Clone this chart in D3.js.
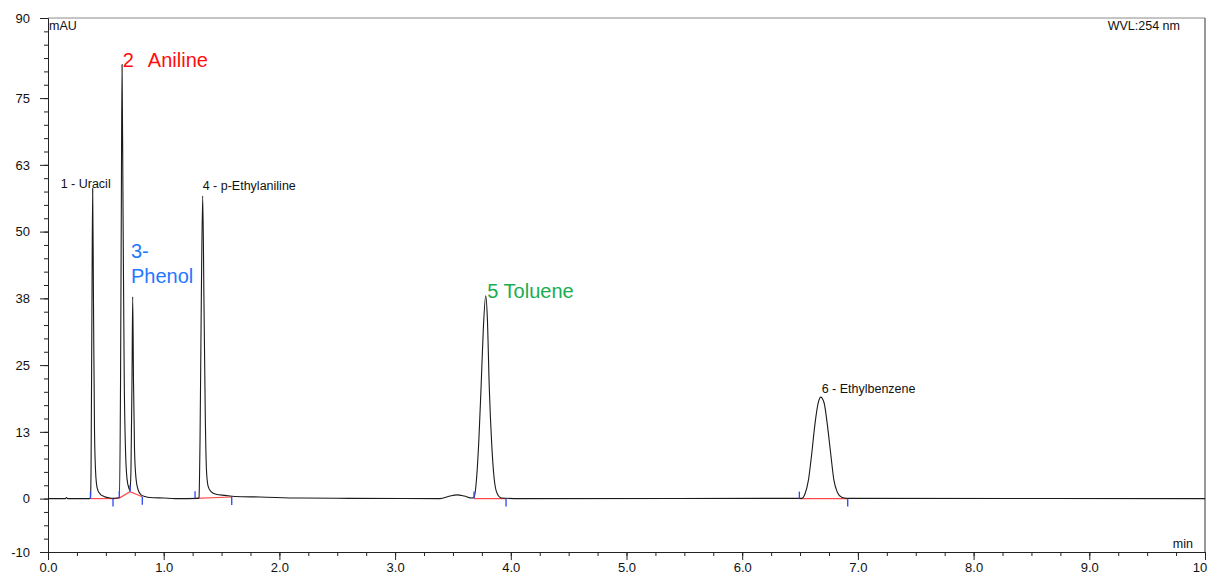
<!DOCTYPE html>
<html>
<head>
<meta charset="utf-8">
<script src="https://cdn.jsdelivr.net/npm/d3@7"></script>
<style>
  body { margin: 0; background: #fff; }
  svg { display: block; font-family: "Liberation Sans", Arial, sans-serif; }
</style>
</head>
<body>
<svg id="chart"></svg>
<script>
// Taille de la fenêtre
const width = 1208;
const height = 576;

// Axes
const xTickValues = [0, 1, 2, 3, 4, 5, 6, 7, 8, 9, 10];
const xTickLabels = ["0.0", "1.0", "2.0", "3.0", "4.0", "5.0", "6.0", "7.0", "8.0", "9.0", "10.0"];
const yTickValues = [-10, 0, 12.5, 25, 37.5, 50, 62.5, 75, 90];
const yTickLabels = ["-10", "0", "13", "25", "38", "50", "63", "75", "90"];

const signal = [
    [0, 0], [0.15, 0], [0.16, 0.2], [0.17, 0], [0.36, 0],
    // 1 - Uracil
    [0.367, 0.2], [0.372, 5.2], [0.380, 37.1], [0.386, 58.1], [0.393, 37.1], [0.402, 12.7],
    [0.411, 5.2], [0.419, 2.8], [0.432, 1.5], [0.449, 0.9], [0.484, 0.4], [0.536, 0.1],
    [0.562, 0.05], [0.60, 0.1],
    // 2 Aniline
    [0.616, 0.2], [0.627, 22.1], [0.634, 55.8], [0.640, 81.3], [0.648, 55.8], [0.659, 22.1],
    [0.670, 9.0], [0.683, 3.7], [0.700, 1.9], [0.709, 1.5],
    // 3 Phenol
    [0.717, 5.2], [0.726, 22.1], [0.732, 37.8], [0.739, 22.1], [0.748, 9.0], [0.761, 3.7],
    [0.778, 1.7], [0.804, 0.7], [0.838, 0.4], [0.882, 0.2], [1.0, 0.1], [1.1, 0], [1.3, 0.05],
    // 4 - p-Ethylaniline
    [1.305, 0.2], [1.314, 10.9], [1.325, 37.1], [1.337, 56.7], [1.348, 37.1], [1.360, 14.6],
    [1.370, 5.2], [1.383, 2.4], [1.409, 1.3], [1.452, 0.8], [1.530, 0.6], [1.616, 0.4],
    [1.832, 0.3], [2.178, 0.1], [2.6, 0.05], [3.388, 0],
    // petite bosse
    [3.474, 0.5], [3.535, 0.7], [3.596, 0.5], [3.665, 0.1],
    // 5 Toluene
    [3.682, 0.25], [3.705, 4.0], [3.725, 11.5], [3.743, 20.8], [3.762, 31.5], [3.783, 38.0],
    [3.797, 34.0], [3.814, 20.8], [3.835, 10.2], [3.855, 4.0], [3.883, 0.9], [3.921, 0.1],
    [4.08, 0],
    // 6 - Ethylbenzene
    [6.514, 0.05], [6.543, 0.9], [6.572, 3.4], [6.601, 8.4], [6.629, 14.0], [6.658, 18.0],
    [6.678, 19.0], [6.707, 18.0], [6.735, 14.0], [6.765, 8.4], [6.793, 3.4], [6.822, 1.2],
    [6.860, 0.25], [6.903, 0.05], [10, 0]
];

// Pics identifiés
const peakIds = ["1", "2", "3", "4", "5", "6"];
const peakNames = ["1 - Uracil", "Aniline", "Phenol", "4 - p-Ethylaniline", "Toluene", "6 - Ethylbenzene"];
const peakTimes = [0.386, 0.640, 0.732, 1.337, 3.783, 6.678];
const peakHeights = [58.1, 81.3, 37.8, 56.7, 38.0, 19.0];

// Lignes de base d'intégration (min, mAU)
const baselines = [
    [[0.367, 0], [0.562, 0]],
    [[0.562, 0], [0.616, 0.1], [0.709, 1.3], [0.815, 0.35]],
    [[1.271, 0.05], [1.588, 0.3]],
    [[3.682, 0], [3.959, 0]],
    [[6.494, 0], [6.912, 0]]
];
// Marqueurs début / fin de pic
const startMarks = [[0.367, 0], [0.616, 0.1], [0.709, 1.3], [1.271, 0.05], [3.682, 0], [6.494, 0]];
const endMarks = [[0.562, 0], [0.815, 0.35], [1.588, 0.3], [3.959, 0], [6.912, 0]];

const margin = { left: 48, right: 3, top: 18, bottom: 24 };

const svg = d3.select("#chart")
    .attr("width", width)
    .attr("height", height);

const x = d3.scaleLinear().domain([0, 10]).range([margin.left, width - margin.right]);
const y = d3.scaleLinear().domain([-10, 90]).range([height - margin.bottom, margin.top]);

// Cadre
svg.append("line")
    .attr("x1", x(0)).attr("x2", x(10))
    .attr("y1", y(90)).attr("y2", y(90))
    .attr("stroke", "#8a8a8a").attr("stroke-width", 1);
svg.append("line")
    .attr("x1", x(10)).attr("x2", x(10))
    .attr("y1", y(90)).attr("y2", y(-10))
    .attr("stroke", "#333").attr("stroke-width", 1);

// Axe Y
const yMinor = d3.range(-10, 90.01, 2.5);
svg.append("g")
    .attr("transform", `translate(${x(0)},0)`)
    .call(d3.axisLeft(y).tickValues(yMinor).tickSize(4).tickFormat(""))
    .call(g => g.select(".domain").attr("stroke", "#222"))
    .call(g => g.selectAll(".tick line").attr("stroke", "#222"));
svg.append("g")
    .attr("transform", `translate(${x(0)},0)`)
    .call(d3.axisLeft(y).tickValues(yTickValues).tickSize(8).tickPadding(10)
        .tickFormat((d, i) => yTickLabels[i]))
    .call(g => g.select(".domain").remove())
    .call(g => g.selectAll(".tick line").attr("stroke", "#222"))
    .call(g => g.selectAll(".tick text").attr("fill", "#111").style("font-size", "13px")
        .attr("font-family", "'Liberation Sans', Arial, sans-serif"));

// Axe X
const xMinor = d3.range(0, 10.01, 0.25);
svg.append("g")
    .attr("transform", `translate(0,${y(-10)})`)
    .call(d3.axisBottom(x).tickValues(xMinor).tickSize(4).tickFormat(""))
    .call(g => g.select(".domain").attr("stroke", "#222"))
    .call(g => g.selectAll(".tick line").attr("stroke", "#222"));
svg.append("g")
    .attr("transform", `translate(0,${y(-10)})`)
    .call(d3.axisBottom(x).tickValues(xTickValues).tickSize(8).tickPadding(3)
        .tickFormat((d, i) => xTickLabels[i]))
    .call(g => g.select(".domain").remove())
    .call(g => g.selectAll(".tick line").attr("stroke", "#222"))
    .call(g => g.selectAll(".tick text").attr("fill", "#111").style("font-size", "13px")
        .attr("font-family", "'Liberation Sans', Arial, sans-serif"));

// Unités
svg.append("text").attr("x", x(0) + 1).attr("y", 30)
    .style("font-size", "12.5px").attr("fill", "#111").text("mAU");
svg.append("text").attr("x", 1180).attr("y", 30).attr("text-anchor", "end")
    .style("font-size", "12.5px").attr("fill", "#111").text("WVL:254 nm");
svg.append("text").attr("x", 1193).attr("y", 548).attr("text-anchor", "end")
    .style("font-size", "12.5px").attr("fill", "#111").text("min");

// Lignes de base d'intégration
const baseLine = d3.line().x(d => x(d[0])).y(d => y(d[1]));
svg.selectAll(".baseline")
    .data(baselines)
    .join("path")
    .attr("class", "baseline")
    .attr("d", baseLine)
    .attr("fill", "none")
    .attr("stroke", "#ff4a4a")
    .attr("stroke-width", 1.2);

// Signal
const line = d3.line()
    .x(d => x(d[0]))
    .y(d => y(d[1]))
    .curve(d3.curveMonotoneX);
svg.append("path")
    .datum(signal)
    .attr("d", line)
    .attr("fill", "none")
    .attr("stroke", "#1a1a1a")
    .attr("stroke-width", 1.1);

// Marqueurs
svg.selectAll(".start-mark")
    .data(startMarks)
    .join("line")
    .attr("class", "start-mark")
    .attr("x1", d => x(d[0])).attr("x2", d => x(d[0]))
    .attr("y1", d => y(d[1])).attr("y2", d => y(d[1]) - 7)
    .attr("stroke", "#2a45f5").attr("stroke-width", 1.3);
svg.selectAll(".end-mark")
    .data(endMarks)
    .join("line")
    .attr("class", "end-mark")
    .attr("x1", d => x(d[0])).attr("x2", d => x(d[0]))
    .attr("y1", d => y(d[1])).attr("y2", d => y(d[1]) + 8)
    .attr("stroke", "#2a45f5").attr("stroke-width", 1.3);

// Étiquettes des pics
const px = i => x(peakTimes[i]);
const py = i => y(peakHeights[i]);
const small = { size: "12.5px", color: "#111" };

svg.append("text").attr("x", px(0) - 32).attr("y", py(0))
    .style("font-size", small.size).attr("fill", small.color).text(peakNames[0]);

const aniline = svg.append("text").attr("x", px(1) + 0.7).attr("y", py(1) + 2.7)
    .style("font-size", "20px").attr("fill", "#ff0d0d");
aniline.append("tspan").text(peakIds[1]);
aniline.append("tspan").attr("dx", 14).text(peakNames[1]);

svg.append("text").attr("x", px(2) - 1.7).attr("y", py(2) - 38.7)
    .style("font-size", "20px").attr("fill", "#1f78ff").text(peakIds[2] + "-");
svg.append("text").attr("x", px(2) - 1.7).attr("y", py(2) - 13.3)
    .style("font-size", "20px").attr("fill", "#1f78ff").text(peakNames[2]);

svg.append("text").attr("x", px(3)).attr("y", py(3) - 6)
    .style("font-size", small.size).attr("fill", small.color).text(peakNames[3]);

svg.append("text").attr("x", px(4) + 1.6).attr("y", py(4) + 2.7)
    .style("font-size", "20px").attr("fill", "#18ad4f").text(peakIds[4] + " " + peakNames[4]);

svg.append("text").attr("x", px(5) + 1).attr("y", py(5) - 4)
    .style("font-size", small.size).attr("fill", small.color).text(peakNames[5]);
</script>
</body>
</html>
